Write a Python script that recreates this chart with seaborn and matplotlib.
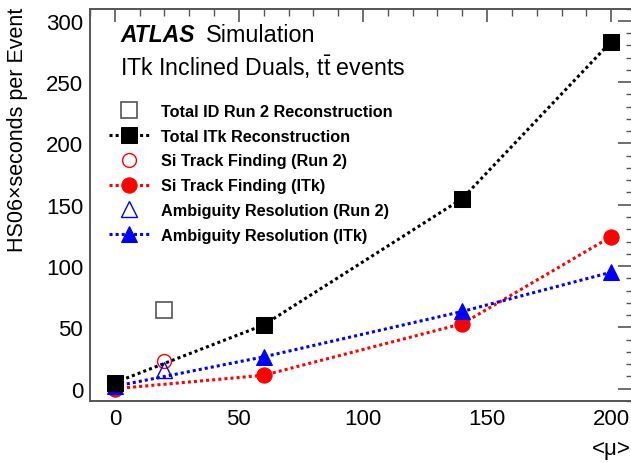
import numpy as np
import pandas as pd
import matplotlib
matplotlib.use("Agg")
import matplotlib.pyplot as plt
import seaborn as sns
from matplotlib.ticker import MultipleLocator

# ---- data ----
mu_itk = [0, 60, 140, 200]
total_itk = [5, 52, 155, 283]
si_itk = [0, 11, 53, 124]
amb_itk = [2, 26, 63, 95]

mu_run2 = [20]
total_run2 = [64]
si_run2 = [23]
amb_run2 = [15]

labels = ["Total ID Run 2 Reconstruction", "Total ITk Reconstruction",
          "Si Track Finding (Run 2)", "Si Track Finding (ITk)",
          "Ambiguity Resolution (Run 2)", "Ambiguity Resolution (ITk)"]

sns.set_theme(style="white")
plt.rcParams['font.family'] = ['Liberation Sans', 'DejaVu Sans']
plt.rcParams['mathtext.fontset'] = 'custom'
plt.rcParams['mathtext.rm'] = 'Liberation Sans'
plt.rcParams['text.color'] = 'black'
plt.rcParams['axes.labelcolor'] = 'black'
plt.rcParams['legend.labelcolor'] = 'black'

W, H = 631, 464
fig = plt.figure(figsize=(6.31, 4.64), dpi=100)
ax = fig.add_axes([90/W, (H-402)/H, (636-90)/W, (402-9.5)/H])

ls = (0, (1, 1))
lw = 2.2

df_itk = pd.DataFrame({"mu": mu_itk, "total": total_itk, "si": si_itk, "amb": amb_itk})
df_r2 = pd.DataFrame({"mu": mu_run2, "total": total_run2, "si": si_run2, "amb": amb_run2})

sns.lineplot(data=df_r2, x="mu", y="total", ax=ax, linestyle="none", marker="s",
             markersize=11, markerfacecolor="none", markeredgecolor="#555555",
             markeredgewidth=1.2, color="#555555")
h0 = ax.lines[-1]
sns.lineplot(data=df_itk, x="mu", y="total", ax=ax, color="black", linestyle=ls, lw=lw,
             marker="s", markersize=11.5, markeredgecolor="black", markerfacecolor="black")
h1 = ax.lines[-1]
sns.lineplot(data=df_r2, x="mu", y="si", ax=ax, linestyle="none", marker="o",
             markersize=10, markerfacecolor="none", markeredgecolor="red",
             markeredgewidth=1.0, color="red")
h2 = ax.lines[-1]
sns.lineplot(data=df_itk, x="mu", y="si", ax=ax, color="red", linestyle=ls, lw=lw,
             marker="o", markersize=11, markeredgecolor="red", markerfacecolor="red")
h3 = ax.lines[-1]
sns.lineplot(data=df_r2, x="mu", y="amb", ax=ax, linestyle="none", marker="^",
             markersize=11, markerfacecolor="none", markeredgecolor="blue",
             markeredgewidth=1.0, color="blue")
h4 = ax.lines[-1]
sns.lineplot(data=df_itk, x="mu", y="amb", ax=ax, color="blue", linestyle=ls, lw=lw,
             marker="^", markersize=11, markeredgecolor="blue", markerfacecolor="blue")
h5 = ax.lines[-1]

h1.set_zorder(5)

ax.set_xlim(-10, 210)
ax.set_ylim(-10, 310)

ax.xaxis.set_major_locator(MultipleLocator(50))
ax.xaxis.set_minor_locator(MultipleLocator(10))
ax.yaxis.set_major_locator(MultipleLocator(50))
ax.yaxis.set_minor_locator(MultipleLocator(10))

ax.tick_params(axis="both", which="both", direction="in", top=True, right=True,
               color="#555555", labelsize=16, labelcolor="black")
ax.tick_params(axis="x", which="major", length=9, width=1.2, pad=5)
ax.tick_params(axis="x", which="minor", length=4.7, width=1.0)
ax.tick_params(axis="y", which="major", length=13, width=1.2, pad=5)
ax.tick_params(axis="y", which="minor", length=7, width=1.0)
for s in ax.spines.values():
    s.set_color("#555555")
    s.set_linewidth(1.4)

ax.set_xlabel("<μ>", fontsize=16, loc="right")
ax.xaxis.set_label_coords((631 - 90) / (636 - 90), -0.095)
ax.set_ylabel("")

fig.text(18/W, 1 - 8/H, "HS06×seconds per Event", fontsize=15.5, rotation=90,
         ha="center", va="top")

# annotations
fig.text(120/W, 1 - 36/H, "ATLAS", fontsize=16.5, fontweight="bold", style="italic",
         va="center", ha="left")
fig.text(206/W, 1 - 36/H, "Simulation", fontsize=16.8, va="center", ha="left")
fig.text(120/W, 1 - 67/H, r"ITk Inclined Duals, t$\bar{\mathrm{t}}$ events",
         fontsize=16.7, va="center", ha="left")

leg = ax.legend([h0, h1, h2, h3, h4, h5], labels, loc="upper left",
                bbox_to_anchor=(109/W, 1 - 105/H), bbox_transform=fig.transFigure,
                frameon=False, prop={"weight": "bold", "size": 11.7},
                handlelength=2.5, labelspacing=0.6, handletextpad=0.72,
                borderpad=0, borderaxespad=0)
for t in leg.get_texts():
    t.set_color("black")

fig.savefig("out.png", dpi=100)
